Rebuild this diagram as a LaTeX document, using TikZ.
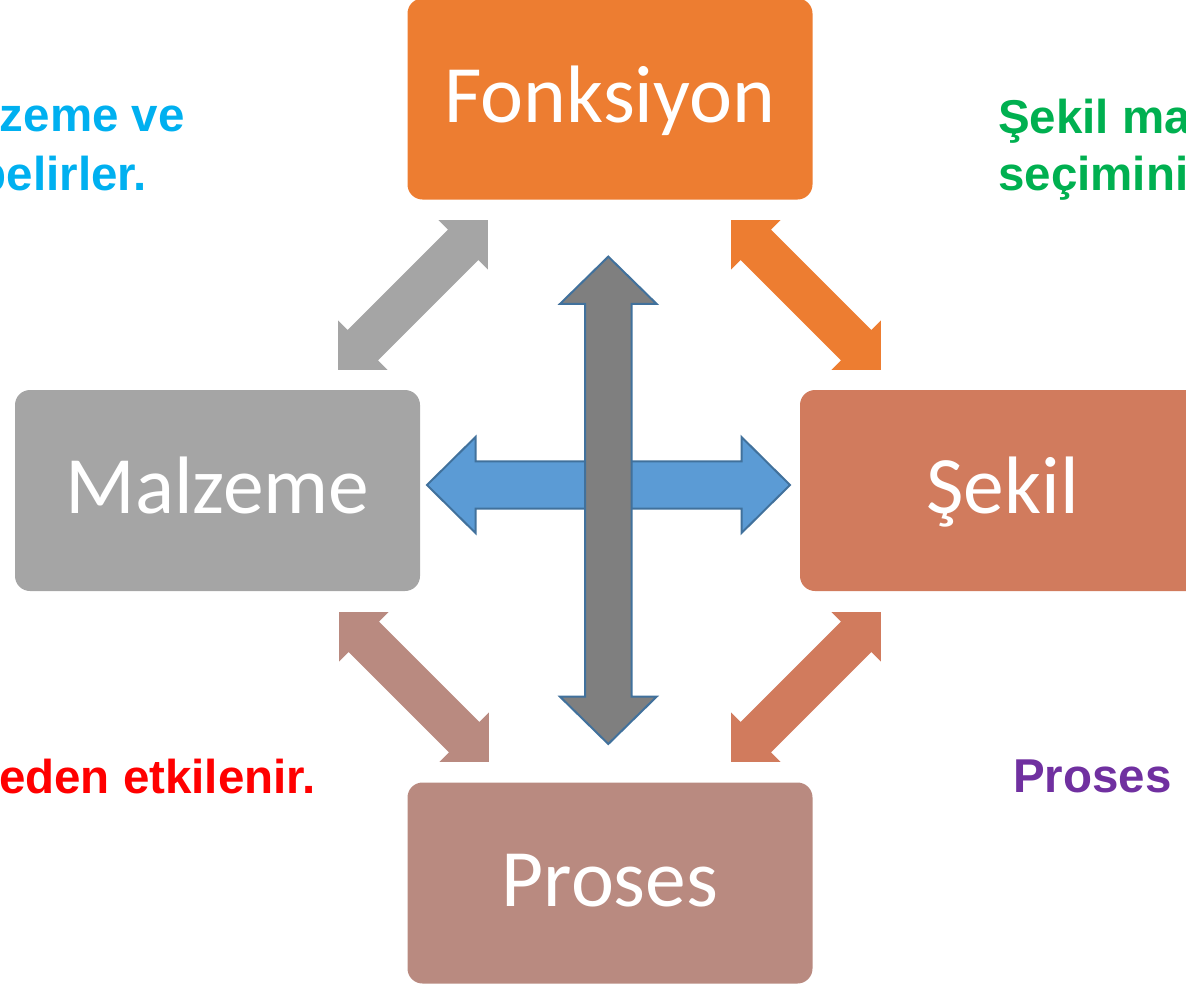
\documentclass[tikz,border=0pt]{standalone}
\usepackage{fontspec}
\setmainfont{Carlito}
\newfontfamily\arialfont{Liberation Sans}
\definecolor{fonkC}{HTML}{ED7D31}
\definecolor{malzC}{HTML}{A5A5A5}
\definecolor{sekilC}{HTML}{D17B5D}
\definecolor{prosC}{HTML}{B98A80}
\definecolor{blueF}{HTML}{5B9BD5}
\definecolor{blueS}{HTML}{41719C}
\definecolor{darkG}{HTML}{7F7F7F}
\definecolor{cyanT}{HTML}{00B0F0}
\definecolor{greenT}{HTML}{00B050}
\definecolor{redT}{HTML}{FF0000}
\definecolor{purpT}{HTML}{7030A0}
\tikzset{
  box/.style={rounded corners=15pt, inner sep=0pt, minimum width=405pt, minimum height=201pt,
    text=white, font=\fontsize{81.5}{92}\selectfont, text height=46pt, text depth=0pt},
  note/.style={inner sep=0pt, font=\arialfont\bfseries\fontsize{47.5}{56}\selectfont},
  blockarrow/.style={line width=2pt, draw=blueS, line join=miter},
}
% cx, cy, angle, half length, head length, head half width, shaft half width, style
\newcommand{\dblarrow}[8]{%
  \path[#8, shift={(#1,#2)}, rotate=#3]
    (#4,0) -- ({#4-#5},#6) -- ({#4-#5},#7) -- ({-#4+#5},#7) -- ({-#4+#5},#6) -- (-#4,0)
    -- ({-#4+#5},-#6) -- ({-#4+#5},-#7) -- ({#4-#5},-#7) -- ({#4-#5},-#6) -- cycle;}
\begin{document}
\begin{tikzpicture}[x=1pt,y=-1pt]
\useasboundingbox (0,0) rectangle (1186,986);
\clip (0,0) rectangle (1186,986);
% boxes
\node[box, fill=fonkC] (fonk) at (610,99) {Fonksiyon};
\node[box, fill=malzC] (malz) at (217.5,490.5) {Malzeme};
\node[box, fill=sekilC] (sekil) at (1002.5,490.5) {Şekil};
\node[box, fill=prosC] (pros) at (610,883) {Proses};
% diagonal arrows
\dblarrow{413}{295}{45}{106}{35}{35}{21.5}{fill=malzC}
\dblarrow{806}{295}{-45}{106}{35}{35}{21.5}{fill=fonkC}
\dblarrow{414}{687}{-45}{106}{35}{35}{21.5}{fill=prosC}
\dblarrow{806}{687}{45}{106}{35}{35}{21.5}{fill=sekilC}
% central arrows
\dblarrow{608.5}{485}{0}{181.5}{48.5}{48}{23.7}{blockarrow, fill=blueF}
\dblarrow{608.3}{500.3}{90}{243.7}{47.3}{48.3}{23.3}{blockarrow, fill=darkG}
% corner texts
\node[note, text=cyanT, anchor=base east] (tl1) at (185,131) {zeme ve};
\node[note, text=cyanT, anchor=base east] (tl2) at (147,190) {belirler.};
\node[note, text=greenT, anchor=base west] (tr1) at (998,133) {Şekil ma};
\node[note, text=greenT, anchor=base west] (tr2) at (998,190) {seçimini};
\node[note, text=redT, anchor=base east] (bl) at (316,793) {eden etkilenir.};
\node[note, text=purpT, anchor=base west] (br) at (1013,792) {Proses};
\end{tikzpicture}
\end{document}
